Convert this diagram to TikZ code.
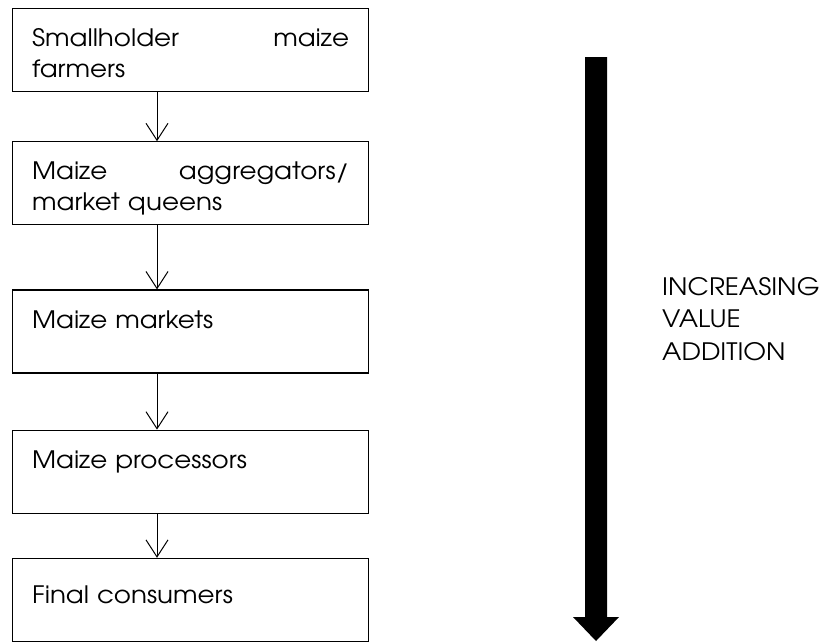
\documentclass[tikz,border=0pt]{standalone}
\usepackage{fontspec}
\setmainfont[FakeStretch=1.09]{TeX Gyre Adventor}
\usetikzlibrary{positioning}
\usetikzlibrary{arrows.meta}

\begin{document}
\begin{tikzpicture}[x=1pt,y=-1pt,
chainbox/.style={draw=black,line width=1.2pt,anchor=north west,text width=317pt,inner xsep=19.5pt,inner ysep=0pt,align=left,font=\fontsize{24}{31}\selectfont,text height=38pt,text depth=45pt},
flow/.style={line width=1pt,-{Straight Barb[length=17pt,width=22pt]}}]
\useasboundingbox (0,0) rectangle (821,641);

\node[chainbox] (farmers) at (12,8) {Smallholder\hfill maize\\farmers};
\node[chainbox,below=49pt of farmers] (aggregators) {Maize\hfill aggregators/\\market queens};
\node[chainbox,below=64pt of aggregators] (markets) {Maize markets};
\node[chainbox,below=56pt of markets] (processors) {Maize processors};
\node[chainbox,below=44pt of processors,text height=45pt,text depth=38pt] (consumers) {Final consumers};

\coordinate (spine) at (157,0);
\foreach \from/\to in {farmers/aggregators,aggregators/markets,markets/processors,processors/consumers}
  \draw[flow] (\from.south -| spine) -- (\to.north -| spine);

\fill[black] (585,57) -- (607,57) -- (607,617) -- (619,617) -- (596,641) -- (573,617) -- (585,617) -- cycle;
\node[anchor=north west,inner sep=0pt,align=left,font=\fontsize{24}{32.5}\selectfont] (valuelabel) at (662,277) {INCREASING\\VALUE\\ADDITION};

\end{tikzpicture}
\end{document}
